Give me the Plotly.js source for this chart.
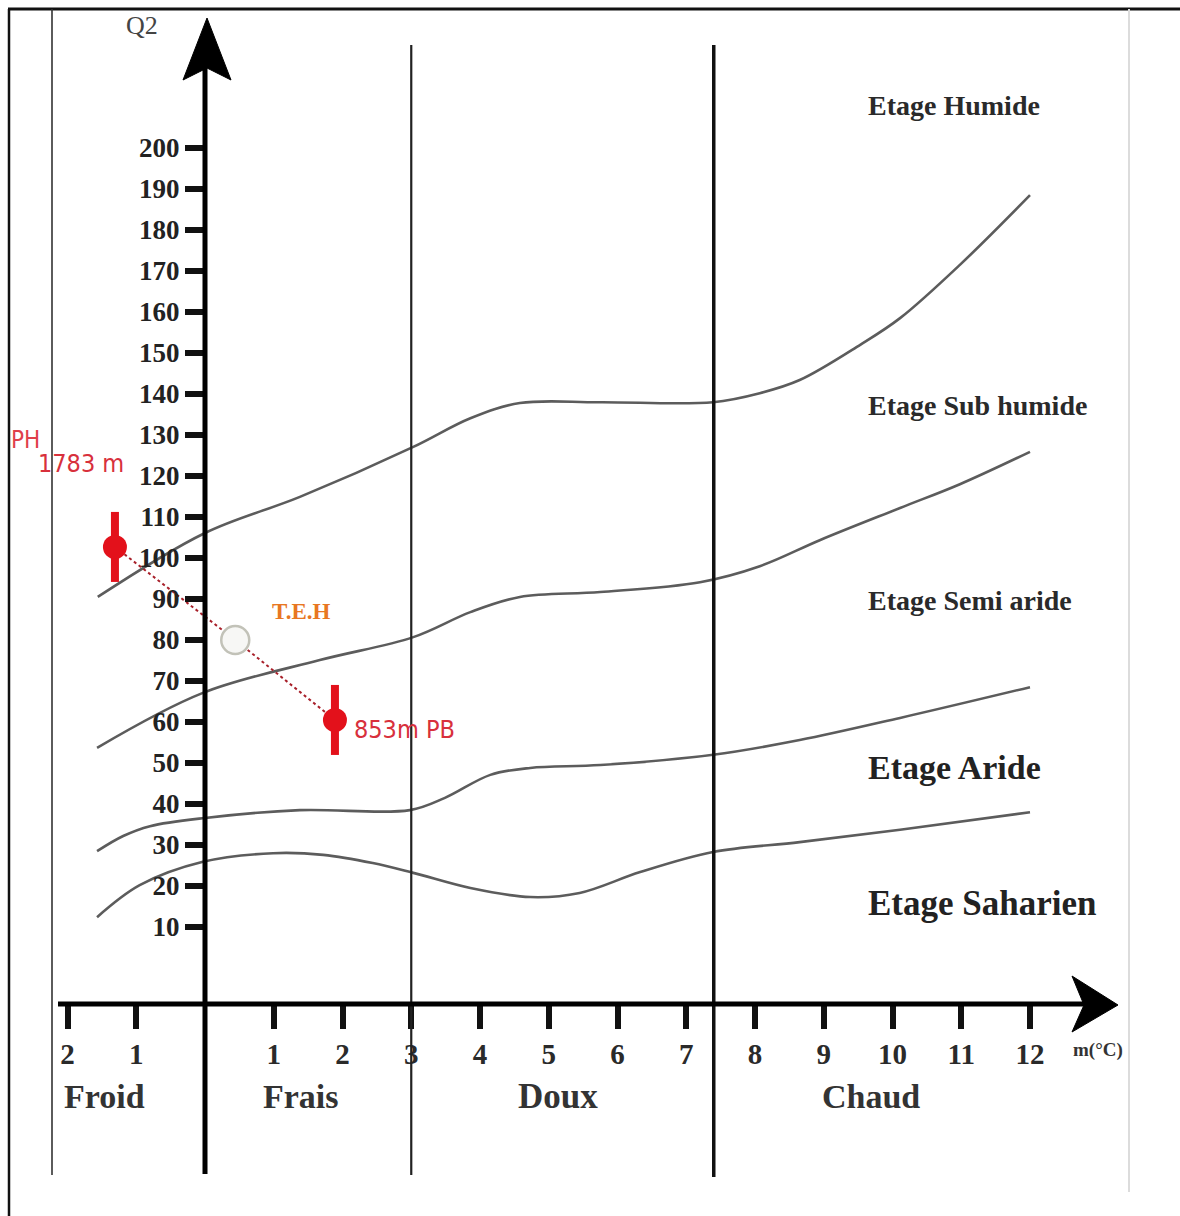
<!DOCTYPE html>
<html>
<head>
<meta charset="utf-8">
<script src="https://cdn.plot.ly/plotly-3.0.1.min.js"></script>
<style>
  html, body { margin: 0; padding: 0; background: #fff; }
  #chart { width: 1180px; height: 1216px; }
</style>
</head>
<body>
<div id="chart"></div>
<script>
// Climagramme d'Emberger : Q2 en fonction de m (°C)

// Limites entre étages bioclimatiques (m, Q2)
const humideM = [-1.56, 0, 1.38, 3.03, 3.86, 4.58, 5.75, 7.39, 8.07, 8.65, 9.53, 10.11, 10.98, 12.0];
const humideQ = [90.5, 106.1, 114.9, 127.1, 134.1, 137.8, 138.0, 138.0, 140.2, 143.4, 152.0, 158.5, 171.5, 188.5];

const subHumideM = [-1.57, -0.03, 1.67, 3.03, 3.86, 4.58, 5.75, 7.2, 8.07, 8.95, 10.11, 10.98, 12.0];
const subHumideQ = [53.7, 67.1, 75.1, 80.7, 86.8, 90.5, 91.7, 94.1, 98.0, 104.4, 112.2, 118.0, 125.9];

const semiArideM = [-1.57, -1.19, -0.8, 0, 1.38, 2.98, 3.49, 4.15, 4.73, 5.75, 7.39, 8.65, 10.11, 12.0];
const semiArideQ = [28.5, 32.2, 34.6, 36.6, 38.5, 38.5, 41.5, 47.1, 48.8, 49.5, 52.0, 55.6, 61.0, 68.5];

const arideM = [-1.57, -0.95, -0.03, 0.99, 1.72, 2.44, 3.03, 3.86, 4.73, 5.45, 6.33, 7.39, 8.65, 10.11, 12.0];
const arideQ = [12.4, 20.2, 25.9, 28.0, 27.6, 25.6, 23.2, 19.5, 17.3, 18.3, 23.4, 28.3, 30.7, 33.7, 38.0];

// Stations : PH (1783 m), T.E.H, PB (853 m)
const stationNames = ['PH', 'T.E.H', 'PB'];
const stationM = [-1.31, 0.44, 1.89];
const stationQ2 = [102.7, 80.0, 60.5];

// Limites thermiques (Froid | Frais | Doux | Chaud)
const thermalLimits = [0, 3, 7.4];

// Graduations
const xTickVals = [-2, -1, 1, 2, 3, 4, 5, 6, 7, 8, 9, 10, 11, 12];
const xTickText = ['2', '1', '1', '2', '3', '4', '5', '6', '7', '8', '9', '10', '11', '12'];
const yTickVals = [10, 20, 30, 40, 50, 60, 70, 80, 90, 100, 110, 120, 130, 140, 150, 160, 170, 180, 190, 200];

const W = 1180, H = 1216;
const px = v => v / W;
const py = v => 1 - v / H;

const serif = 'Liberation Serif, DejaVu Serif, serif';
const narrow = 'DejaVu Sans Condensed, Liberation Sans Narrow, Roboto, sans-serif';
const red = '#e3111b';

function boundary(xs, ys) {
  return {
    x: xs, y: ys, type: 'scatter', mode: 'lines',
    line: { color: '#5c5c5c', width: 2.6, shape: 'spline', smoothing: 1 },
    hoverinfo: 'skip', showlegend: false
  };
}

const stationPH_PB = [0, 2];
const traces = [
  boundary(humideM, humideQ),
  boundary(subHumideM, subHumideQ),
  boundary(semiArideM, semiArideQ),
  boundary(arideM, arideQ),
  {
    x: stationM, y: stationQ2, type: 'scatter', mode: 'lines',
    line: { color: '#a8202a', width: 2, dash: 'dot' },
    hoverinfo: 'skip', showlegend: false
  },
  {
    x: stationPH_PB.map(i => stationM[i]), y: stationPH_PB.map(i => stationQ2[i]),
    type: 'scatter', mode: 'markers',
    marker: { symbol: 'line-ns', size: 50, line: { color: red, width: 8 } },
    hoverinfo: 'skip', showlegend: false
  },
  {
    x: stationPH_PB.map(i => stationM[i]), y: stationPH_PB.map(i => stationQ2[i]),
    type: 'scatter', mode: 'markers',
    marker: { symbol: 'circle', size: 24, color: red },
    text: stationPH_PB.map(i => stationNames[i]),
    hoverinfo: 'text', showlegend: false
  },
  {
    x: [stationM[1]], y: [stationQ2[1]], type: 'scatter', mode: 'markers',
    marker: { symbol: 'circle', size: 28, color: '#f7f7f5', line: { color: '#c2c2b8', width: 2.5 } },
    text: [stationNames[1]], hoverinfo: 'text', showlegend: false
  }
];

const shapes = [
  // cadre
  { type: 'line', xref: 'paper', yref: 'paper', x0: px(8), x1: px(1180), y0: py(9), y1: py(9), line: { color: '#111', width: 3 } },
  { type: 'line', xref: 'paper', yref: 'paper', x0: px(9), x1: px(9), y0: py(9), y1: py(1216), line: { color: '#111', width: 2.5 } },
  { type: 'line', xref: 'paper', yref: 'paper', x0: px(52), x1: px(52), y0: py(9), y1: py(1175), line: { color: '#333', width: 1.6 } },
  { type: 'line', xref: 'paper', yref: 'paper', x0: px(1129), x1: px(1129), y0: py(9), y1: py(1192), line: { color: '#dcdcdc', width: 2 } },
  // axe Q2
  { type: 'line', xref: 'x', yref: 'paper', x0: thermalLimits[0], x1: thermalLimits[0], y0: py(1174), y1: py(50), line: { color: '#000', width: 5 } },
  { type: 'path', xref: 'paper', yref: 'paper',
    path: `M ${px(207)} ${py(18)} L ${px(231)} ${py(80)} L ${px(207)} ${py(68)} L ${px(183)} ${py(80)} Z`,
    fillcolor: '#000', line: { color: '#000', width: 1 } },
  // limites thermiques
  { type: 'line', xref: 'x', yref: 'paper', x0: thermalLimits[1], x1: thermalLimits[1], y0: py(1175), y1: py(45), line: { color: '#222', width: 2.2 } },
  { type: 'line', xref: 'x', yref: 'paper', x0: thermalLimits[2], x1: thermalLimits[2], y0: py(1177), y1: py(45), line: { color: '#111', width: 3.5 } },
  // axe m
  { type: 'line', xref: 'paper', yref: 'paper', x0: px(58), x1: px(1090), y0: py(1004), y1: py(1004), line: { color: '#000', width: 5 } },
  { type: 'path', xref: 'paper', yref: 'paper',
    path: `M ${px(1118)} ${py(1005)} L ${px(1072)} ${py(976)} L ${px(1084)} ${py(1005)} L ${px(1072)} ${py(1032)} Z`,
    fillcolor: '#000', line: { color: '#000', width: 1 } }
];

function label(text, x, y, size, color, family, weight, anchor) {
  return {
    text: text, xref: 'paper', yref: 'paper', x: px(x), y: py(y),
    xanchor: anchor || 'center', yanchor: 'middle', showarrow: false,
    font: { family: family, size: size, color: color, weight: weight }
  };
}

const annotations = [
  label('Q2', 142, 25, 26, '#444', serif, 'normal'),
  label('m(°C)', 1098, 1050, 19, '#333', serif, 'bold'),
  label('Etage Humide', 866, 105, 28, '#2a2a2a', serif, 'bold', 'left'),
  label('Etage Sub humide', 866, 406, 28, '#2a2a2a', serif, 'bold', 'left'),
  label('Etage Semi aride', 866, 600, 28, '#2a2a2a', serif, 'bold', 'left'),
  label('Etage Aride', 866, 767, 34, '#222', serif, 'bold', 'left'),
  label('Etage Saharien', 866, 903, 35, '#222', serif, 'bold', 'left'),
  label('Froid', 104, 1096, 34, '#333', serif, 'bold'),
  label('Frais', 301, 1096, 34, '#333', serif, 'bold'),
  label('Doux', 558, 1096, 35, '#333', serif, 'bold'),
  label('Chaud', 871, 1096, 34, '#333', serif, 'bold'),
  label('PH', 25, 440, 24, '#e0404a', narrow, 'normal'),
  label('1783 m', 81, 464, 25, '#d8303c', narrow, 'normal'),
  label('853m PB', 405, 729, 25, '#d8303c', narrow, 'normal'),
  label('T.E.H', 301, 611, 23, '#e87722', serif, 'bold')
];

const layout = {
  width: W, height: H,
  margin: { l: 0, r: 0, t: 0, b: 0 },
  paper_bgcolor: '#ffffff', plot_bgcolor: '#ffffff',
  showlegend: false,
  xaxis: {
    range: [-205 / 68.75, (W - 205) / 68.75],
    anchor: 'free', position: py(1004),
    showgrid: false, zeroline: false, showline: false,
    ticks: 'outside', ticklen: 24, tickwidth: 6, tickcolor: '#111',
    tickvals: xTickVals, ticktext: xTickText,
    tickfont: { family: serif, size: 29, color: '#2a2a2a', weight: 'bold' },
    fixedrange: true
  },
  yaxis: {
    range: [200 - (H - 148) / 4.1, 200 + 148 / 4.1],
    anchor: 'free', position: px(205),
    showgrid: false, zeroline: false, showline: false,
    ticks: 'outside', ticklen: 20, tickwidth: 6, tickcolor: '#111',
    tickvals: yTickVals,
    tickfont: { family: serif, size: 27, color: '#222', weight: 'bold' },
    fixedrange: true
  },
  shapes: shapes,
  annotations: annotations
};

Plotly.newPlot('chart', traces, layout, { displayModeBar: false, staticPlot: true });
</script>
</body>
</html>
